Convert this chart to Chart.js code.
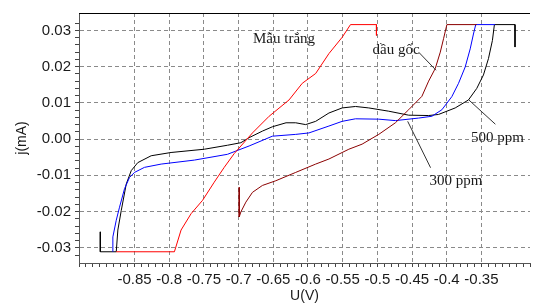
<!DOCTYPE html>
<html>
<head>
<meta charset="utf-8">
<script src="https://cdn.jsdelivr.net/npm/chart.js@4/dist/chart.umd.min.js"></script>
<style>
  html, body { margin: 0; padding: 0; background: #fff; }
  #wrap { width: 534px; height: 305px; }
</style>
</head>
<body>
<div id="wrap"><canvas id="chart" width="534" height="305"></canvas></div>
<script>
// --- DATA: U (V) vs j (mA) ---
const mauTrangU = [-0.8763, -0.7925, -0.7829, -0.7685, -0.7519, -0.7351, -0.7207, -0.7063, -0.68, -0.656, -0.6273, -0.6082, -0.5889, -0.5698, -0.5507, -0.5387, -0.5013, -0.5013];
const mauTrangJ = [-0.0311, -0.0311, -0.0251, -0.0206, -0.0169, -0.0119, -0.0078, -0.0040, 0.0017, 0.0063, 0.0108, 0.0154, 0.0181, 0.0236, 0.0281, 0.0316, 0.0316, 0.0286];

const dauGocU = [-0.6991, -0.6991, -0.6967, -0.6895, -0.68, -0.6657, -0.6464, -0.6177, -0.5889, -0.5698, -0.5411, -0.522, -0.498, -0.474, -0.4549, -0.4358, -0.4261, -0.4165, -0.4093, -0.4046, -0.3998, -0.3567];
const dauGocJ = [-0.0133, -0.0215, -0.0201, -0.0174, -0.0147, -0.0128, -0.0115, -0.0092, -0.0069, -0.0055, -0.0028, -0.0014, 0.0013, 0.0045, 0.0081, 0.0118, 0.0160, 0.0195, 0.0240, 0.0277, 0.0316, 0.0316];

const ppm300U = [-0.8812, -0.8812, -0.8763, -0.8716, -0.8644, -0.8572, -0.85, -0.8356, -0.8116, -0.7638, -0.716, -0.7039, -0.6848, -0.6513, -0.6177, -0.5986, -0.5698, -0.5507, -0.5315, -0.498, -0.474, -0.4405, -0.4214, -0.407, -0.3927, -0.383, -0.3734, -0.3662, -0.3615, -0.3582, -0.3303];
const ppm300J = [-0.0311, -0.0270, -0.0224, -0.0188, -0.0137, -0.0106, -0.0092, -0.0078, -0.0069, -0.0058, -0.0042, -0.0033, -0.0019, 0.0008, 0.0013, 0.0017, 0.0036, 0.0049, 0.0056, 0.0055, 0.0051, 0.0058, 0.0063, 0.0081, 0.0117, 0.0154, 0.0199, 0.0249, 0.0290, 0.0316, 0.0316];

const ppm500U = [-0.8993, -0.8993, -0.8763, -0.874, -0.8691, -0.8619, -0.8547, -0.8453, -0.826, -0.7973, -0.7494, -0.716, -0.6967, -0.6848, -0.6657, -0.6513, -0.6316, -0.6177, -0.6033, -0.5889, -0.5698, -0.5507, -0.5315, -0.5124, -0.4836, -0.4549, -0.4261, -0.4118, -0.3878, -0.3687, -0.3567, -0.3471, -0.3399, -0.3342, -0.3313, -0.3016, -0.3016];
const ppm500J = [-0.0256, -0.0311, -0.0311, -0.0251, -0.0197, -0.0124, -0.0087, -0.0065, -0.0046, -0.0037, -0.0028, -0.0017, -0.0010, 0.0004, 0.0022, 0.0034, 0.0045, 0.0045, 0.0040, 0.0049, 0.0072, 0.0086, 0.0090, 0.0086, 0.0077, 0.0066, 0.0065, 0.0068, 0.0086, 0.0108, 0.0140, 0.0177, 0.0222, 0.0272, 0.0316, 0.0316, 0.0254];

const seriesNames = ['Mẫu trắng', 'dầu gốc', '300 ppm', '500 ppm'];
const xTitle = 'U(V)';
const yTitle = 'j(mA)';

// --- annotation labels (data coordinates) ---
const notes = [
  { text: 'Mẫu trắng', at: [-0.6345, 0.0276] },
  { text: 'dầu gốc', at: [-0.4729, 0.0246], line: [[-0.4405, 0.0240], [-0.4154, 0.0190]] },
  { text: '500 ppm', at: [-0.3270, 0.0003], line: [[-0.3687, 0.0109], [-0.3299, 0.0041]] },
  { text: '300 ppm', at: [-0.3867, -0.0115], line: [[-0.4563, 0.0049], [-0.4233, -0.0079]] }
];

const toPts = (u, j) => u.map((v, i) => ({ x: v, y: j[i] }));
const near = (a, b) => Math.abs(a - b) < 1e-6;

const isMajorX = v => {
  const r = Math.round(v * 100);
  return near(v * 100, r) && r % 5 === 0 && r >= -85 && r <= -35;
};
const isMajorY = v => near(v * 100, Math.round(v * 100));
const isMinorY = v => near(v * 500, Math.round(v * 500));

const gridColor = '#8a8a8a';
const fontFamily = "Arial, 'Liberation Sans', sans-serif";
const tickFont = { family: fontFamily, size: 15 };
const noteFont = "15px 'Times New Roman', 'Liberation Serif', serif";

const annotate = {
  id: 'annotate',
  afterDatasetsDraw(chart) {
    const { ctx, chartArea, scales: { x, y } } = chart;
    ctx.save();
    // top frame line
    ctx.strokeStyle = '#000';
    ctx.lineWidth = 1;
    ctx.beginPath();
    ctx.moveTo(chartArea.left, chartArea.top + 0.5);
    ctx.lineTo(chartArea.right, chartArea.top + 0.5);
    ctx.stroke();

    ctx.font = noteFont;
    ctx.fillStyle = '#1a1a1a';
    ctx.textAlign = 'center';
    ctx.textBaseline = 'middle';
    notes.forEach(n => {
      ctx.fillText(n.text, x.getPixelForValue(n.at[0]), y.getPixelForValue(n.at[1]));
      if (n.line) {
        ctx.strokeStyle = '#333';
        ctx.lineWidth = 1;
        ctx.beginPath();
        ctx.moveTo(x.getPixelForValue(n.line[0][0]), y.getPixelForValue(n.line[0][1]));
        ctx.lineTo(x.getPixelForValue(n.line[1][0]), y.getPixelForValue(n.line[1][1]));
        ctx.stroke();
      }
    });
    ctx.restore();
  }
};

const mkSet = (label, u, j, color) => ({
  label, data: toPts(u, j), borderColor: color, backgroundColor: color,
  borderWidth: 1, pointRadius: 0, tension: 0, fill: false
});

new Chart(document.getElementById('chart'), {
  type: 'line',
  data: {
    datasets: [
      mkSet(seriesNames[0], mauTrangU, mauTrangJ, '#ff0000'),
      mkSet(seriesNames[1], dauGocU, dauGocJ, '#8b0000'),
      mkSet(seriesNames[2], ppm300U, ppm300J, '#0000ff'),
      mkSet(seriesNames[3], ppm500U, ppm500J, '#000000')
    ]
  },
  options: {
    responsive: false,
    animation: false,
    layout: { padding: { top: 11, right: 1, left: 0, bottom: 0 } },
    plugins: { legend: { display: false }, tooltip: { enabled: false } },
    scales: {
      x: {
        type: 'linear', min: -0.93, max: -0.28,
        afterFit: s => { s.height = 42; },
        ticks: {
          stepSize: 0.01, autoSkip: false, maxRotation: 0, minRotation: 0,
          padding: 4, color: '#1a1a1a', font: tickFont,
          callback: v => isMajorX(v) ? String(Math.round(v * 100) / 100) : ''
        },
        grid: {
          color: c => (c.tick && isMajorX(c.tick.value)) ? gridColor : 'rgba(0,0,0,0)',
          tickColor: c => (c.tick && near(c.tick.value * 100, Math.round(c.tick.value * 100))) ? '#444' : 'rgba(0,0,0,0)',
          tickLength: 4
        },
        border: { color: '#555', dash: [4, 3] },
        title: { display: true, text: xTitle, color: '#1a1a1a', font: { family: fontFamily, size: 14 }, padding: { top: 0, bottom: 0 } }
      },
      y: {
        min: -0.0342, max: 0.0348,
        afterFit: s => { s.width = 79; },
        ticks: {
          stepSize: 0.002, autoSkip: false, padding: 4, color: '#1a1a1a', font: tickFont,
          callback: v => isMajorY(v) ? (Math.round(v * 100) / 100).toFixed(2) : ''
        },
        grid: {
          color: c => (c.tick && isMajorY(c.tick.value)) ? gridColor : 'rgba(0,0,0,0)',
          tickColor: c => (c.tick && isMinorY(c.tick.value)) ? '#444' : 'rgba(0,0,0,0)',
          tickLength: 4
        },
        border: { color: '#555', dash: [4, 3] },
        title: { display: true, text: yTitle, color: '#1a1a1a', font: { family: fontFamily, size: 14 }, padding: { top: 14, bottom: 0 } }
      }
    }
  },
  plugins: [annotate]
});
</script>
</body>
</html>
